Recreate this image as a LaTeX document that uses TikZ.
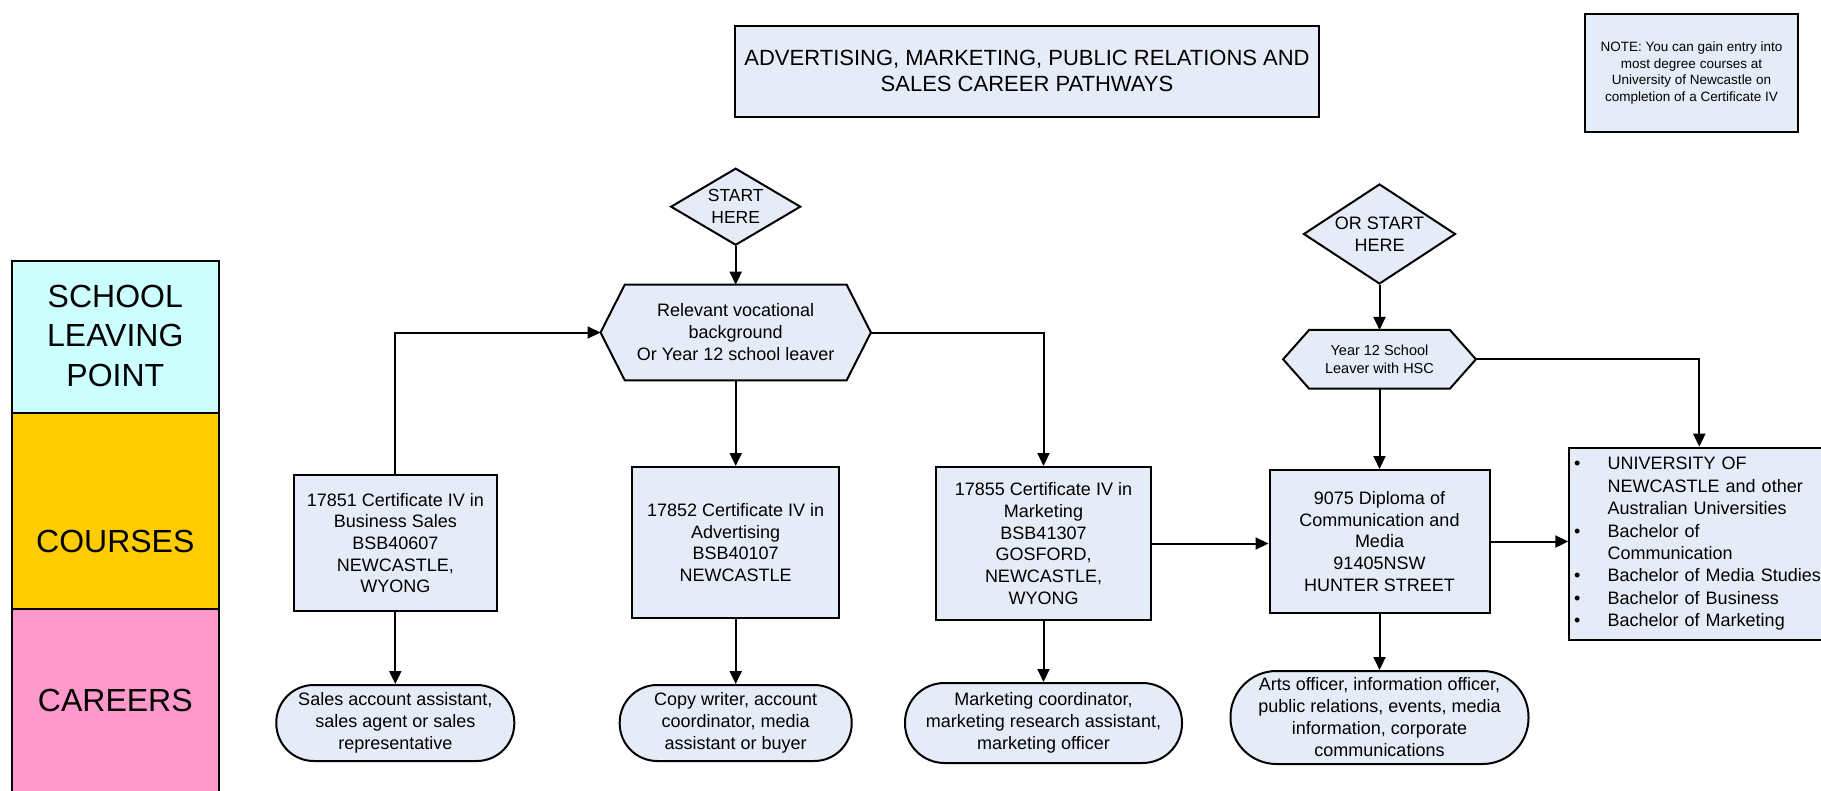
\documentclass[tikz,border=0pt]{standalone}
\usepackage{fontspec}
\setmainfont{Liberation Sans}
\usetikzlibrary{arrows.meta,shapes.geometric,backgrounds}
\definecolor{boxfill}{HTML}{E6ECF7}
\definecolor{bandcyan}{HTML}{CCFFFF}
\definecolor{bandyellow}{HTML}{FFCC00}
\definecolor{bandpink}{HTML}{FF99CC}
\newcommand{\fsz}[2]{\fontsize{#1}{#2}\selectfont}
\newcommand{\bul}{\makebox[28.7pt][l]{\hspace{-5pt}\textbullet}}
\newcommand{\bulind}{\hspace*{28.7pt}}
\begin{document}
\begin{tikzpicture}[x=1pt,y=-1pt,
  outl/.style={draw=black, line width=2pt},
  boxbase/.style={outl, fill=boxfill, inner sep=0pt, align=center},
  coursebox/.style={boxbase, rectangle, font=\fsz{18}{21.7}},
  careeroval/.style={boxbase, rectangle, rounded corners=#1, font=\fsz{18}{22}},
  startdiamond/.style={boxbase, diamond},
  hexnode/.style={inner sep=0pt, align=center},
  hexline/.style={outl, fill=boxfill, line join=miter},
  arr/.style={line width=2pt, -{Triangle[length=13pt,width=12pt]}},
  bandtext/.style={font=\fsz{32}{39.5}, align=center}
]
\useasboundingbox (0,0) rectangle (1821,790);

% left bands
\path[outl, fill=bandcyan] (11.7,261) rectangle (219,413);
\path[outl, fill=bandyellow] (11.7,413) rectangle (219,609);
\path[outl, fill=bandpink] (11.7,609) rectangle (219,830);
\node[bandtext] (lblschool) at (115.3,335.6) {SCHOOL\\LEAVING\\POINT};
\node[bandtext] (lblcourses) at (115.3,541) {COURSES};
\node[bandtext] (lblcareers) at (115.3,700) {CAREERS};

% title and note
\node[boxbase, font=\fsz{22}{26.6}, minimum width=584, minimum height=91] (title) at (1027,71)
  {ADVERTISING, MARKETING, PUBLIC RELATIONS AND\\SALES CAREER PATHWAYS};
\node[boxbase, font=\fsz{13.5}{16.5}, minimum width=213, minimum height=117.7] (note) at (1691.5,72.85)
  {NOTE: You can gain entry into\\most degree courses at\\University of Newcastle on\\completion of a Certificate IV};

% start diamonds
\node[startdiamond, font=\fsz{17.5}{21.7}, shape aspect=1.69, minimum width=130, minimum height=77] (start1) at (735.7,206.7) {START\\HERE};
\node[startdiamond, font=\fsz{18}{22}, shape aspect=1.52, minimum width=152, minimum height=100] (start2) at (1379.5,234) {OR START\\HERE};

% hexagons
\node[hexnode, font=\fsz{18}{22}, minimum width=270, minimum height=95.3] (hex1) at (735.7,332.5)
  {Relevant vocational\\background\\Or Year 12 school leaver};
\node[hexnode, font=\fsz{14.5}{17.7}, minimum width=192.4, minimum height=58.3] (hex2) at (1379.5,359.3)
  {Year 12 School\\Leaver with HSC};
\begin{pgfonlayer}{background}
\path[hexline] (hex1.west) -- ([xshift=24.3pt]hex1.north west) -- ([xshift=-24.3pt]hex1.north east)
  -- (hex1.east) -- ([xshift=-24.3pt]hex1.south east) -- ([xshift=24.3pt]hex1.south west) -- cycle;
\path[hexline] (hex2.west) -- ([xshift=26pt]hex2.north west) -- ([xshift=-26pt]hex2.north east)
  -- (hex2.east) -- ([xshift=-26pt]hex2.south east) -- ([xshift=26pt]hex2.south west) -- cycle;
\end{pgfonlayer}

% courses
\node[coursebox, minimum width=203, minimum height=136] (c1) at (395.3,543)
  {17851 Certificate IV in\\Business Sales\\BSB40607\\NEWCASTLE,\\WYONG};
\node[coursebox, minimum width=206.5, minimum height=151] (c2) at (735.7,542.5)
  {17852 Certificate IV in\\Advertising\\BSB40107\\NEWCASTLE};
\node[coursebox, minimum width=215, minimum height=153] (c3) at (1043.5,543.5)
  {17855 Certificate IV in\\Marketing\\BSB41307\\GOSFORD,\\NEWCASTLE,\\WYONG};
\node[coursebox, minimum width=220, minimum height=143] (c4) at (1379.5,541.5)
  {9075 Diploma of\\Communication and\\Media\\91405NSW\\HUNTER STREET};
\node[boxbase, anchor=north west, font=\fsz{18}{22.4}, align=left, text width=250pt,
  inner xsep=9.7pt, minimum height=192.3] (uni) at (1568.3,446.7)
  {\bul UNIVERSITY OF\\
   \bulind NEWCASTLE and other\\
   \bulind Australian Universities\\
   \bul Bachelor of\\
   \bulind Communication\\
   \bul Bachelor of Media Studies\\
   \bul Bachelor of Business\\
   \bul Bachelor of Marketing};

% careers
\node[careeroval=37.5, minimum width=238, minimum height=76] (k1) at (395.3,723)
  {Sales account assistant,\\sales agent or sales\\representative};
\node[careeroval=37.5, minimum width=232, minimum height=76] (k2) at (735.7,723)
  {Copy writer, account\\coordinator, media\\assistant or buyer};
\node[careeroval=39.5, minimum width=277, minimum height=80] (k3) at (1043.5,723)
  {Marketing coordinator,\\marketing research assistant,\\marketing officer};
\node[careeroval=46, minimum width=298, minimum height=93] (k4) at (1379.5,717.5)
  {Arts officer, information officer,\\public relations, events, media\\information, corporate\\communications};

% connectors
\draw[arr] (start1.south) -- (hex1.north);
\draw[arr] (hex1.south) -- (c2.north);
\draw[arr] (c1.north) |- (hex1.west);
\draw[arr] (hex1.east) -| (c3.north);
\draw[arr] (c3.east) -- (c3.east -| c4.west);
\draw[arr] (c4.east) -- (c4.east -| uni.west);
\draw[arr] (start2.south) -- (hex2.north);
\draw[arr] (hex2.south) -- (c4.north);
\draw[arr] (hex2.east) -| ([xshift=131pt]uni.north west);
\draw[arr] (c1.south) -- (k1.north);
\draw[arr] (c2.south) -- (k2.north);
\draw[arr] (c3.south) -- (k3.north);
\draw[arr] (c4.south) -- (k4.north);
\end{tikzpicture}
\end{document}
